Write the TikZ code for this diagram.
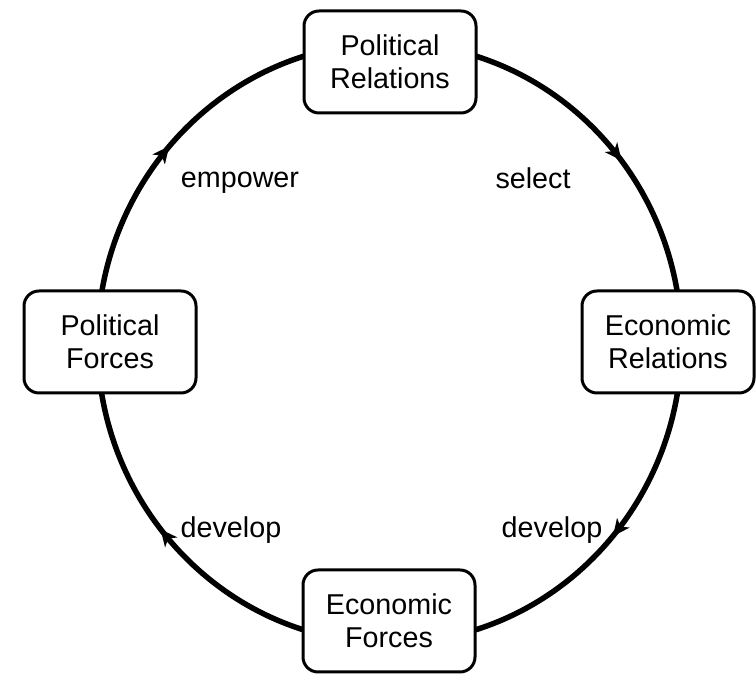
\documentclass[tikz,border=0pt]{standalone}
\usepackage{fontspec}
\setmainfont{Liberation Sans}
\usetikzlibrary{decorations.markings,backgrounds}
\begin{document}
\begin{tikzpicture}[x=1pt,y=1pt,
  box/.style={draw,line width=3pt,rounded corners=15pt,fill=white,
    minimum width=172pt,minimum height=102pt,align=center,inner sep=0pt,
    font=\fontsize{28.7}{33}\selectfont},
  lbl/.style={font=\fontsize{28.7}{33}\selectfont,inner sep=0pt},
  flow/.style={line width=5.5pt,postaction={decorate},
    decoration={markings,mark=at position #1 with {\fill (9pt,0pt) -- (-8pt,8pt) -- (-3pt,0pt) -- (-8pt,-8pt) -- cycle;}}}
]
\useasboundingbox (0,0) rectangle (756,676);
\node[box] (PR) at (390,614) {Political\\Relations};
\node[box] (ER) at (668,334) {Economic\\Relations};
\node[box] (EF) at (389,55) {Economic\\Forces};
\node[box] (PF) at (110,334) {Political\\Forces};
\node[lbl] (l1) at (533,498) {select};
\node[lbl] (l2) at (552,146) {develop};
\node[lbl] (l3) at (231,146) {develop};
\node[lbl] (l4) at (240,493) {empower};
\begin{scope}[on background layer]
\draw[flow=0.56] ([yshift=19pt]PR.center) to[out=0,in=90] ([xshift=13.5pt,yshift=-1pt]ER.center);
\draw[flow=0.43] ([xshift=13.5pt,yshift=-1pt]ER.center) to[out=-90,in=0] ([xshift=0.5pt,yshift=-22pt]EF.center);
\draw[flow=0.55] ([xshift=0.5pt,yshift=-22pt]EF.center) to[out=180,in=-90] ([xshift=-12.5pt,yshift=-1pt]PF.center);
\draw[flow=0.44] ([xshift=-12.5pt,yshift=-1pt]PF.center) to[out=90,in=180] ([yshift=19pt]PR.center);
\end{scope}
\end{tikzpicture}
\end{document}
